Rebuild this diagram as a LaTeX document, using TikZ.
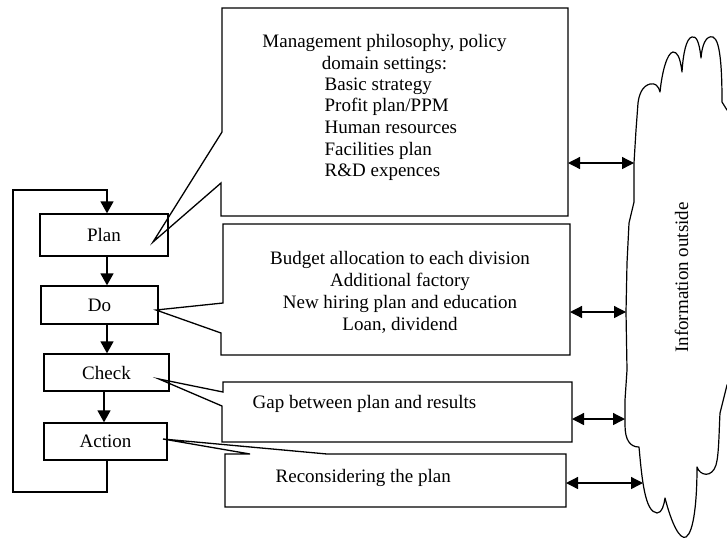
\documentclass[tikz,border=0pt]{standalone}
\usepackage{fontspec}
\setmainfont{Liberation Serif}
\usetikzlibrary{arrows.meta}

\begin{document}
\begin{tikzpicture}[x=1pt,y=-1pt,
  line width=1.3pt, line join=miter,
  lbl/.style={font=\fontsize{19}{21.7}\selectfont, inner sep=0pt},
  stage/.style={draw, lbl},
  bubble/.style={draw, line width=1.3pt},
  flow/.style={-{Triangle[length=12pt,width=13pt]}},
  both/.style={{Triangle[length=12pt,width=12pt]}-{Triangle[length=12pt,width=12pt]}},
  cloudline/.style={draw, line width=1.2pt, line join=round}
]
\useasboundingbox (0,0) rectangle (727,539);
\clip (0,0) rectangle (727,539);

% PDCA stages
\node[stage, minimum width=128pt, minimum height=42pt] (plan)   at (104,235)   {Plan};
\node[stage, minimum width=117pt, minimum height=38pt] (do)     at (99.5,305)  {Do};
\node[stage, minimum width=125pt, minimum height=37pt] (check)  at (106.5,372.5) {Check};
\node[stage, minimum width=123pt, minimum height=37pt] (action) at (105.5,441.5) {Action};

\coordinate (ax) at (107,0);
\coordinate (bx) at (104,0);
\draw[flow] (plan.south -| ax) -- (do.north -| ax);
\draw[flow] (do.south -| ax) -- (check.north -| ax);
\draw[flow] (check.south -| bx) -- (action.north -| bx);

% feedback loop from Action back to Plan
\coordinate (lowleft) at (13,492);
\coordinate (upleft) at (13,190);
\draw[flow] (action.south -| ax) |- (lowleft) -- (upleft) -| (plan.north -| ax);

% callout tips
\coordinate (tipP) at (153,242);
\coordinate (tipD) at (156,310);
\coordinate (tipC) at (159,379);
\coordinate (tipA) at (163,439);

% callout balloons
\draw[bubble] (222,8) -- (568,8) -- (568,216) -- (221,216) -- (221,183)
  -- (tipP) -- (222,132) -- cycle;
\draw[bubble] (223,224) -- (570,224) -- (570,355) -- (221,355) -- (221,333)
  -- (tipD) -- (223,303) -- cycle;
\draw[bubble] (223,382) -- (572,382) -- (572,442) -- (222,442) -- (222,406)
  -- (tipC) -- (223,392) -- cycle;
\draw[bubble] (225,454) -- (250,454) -- (tipA) -- (327,454) -- (566,454)
  -- (566,507) -- (225,507) -- cycle;

% balloon texts
\node[lbl, align=center, anchor=north] (policy) at (384.5,33.5)
  {Management philosophy, policy\\domain settings:};
\node[lbl, align=left, anchor=north west] (items) at (324,76.9)
  {Basic strategy\\Profit plan/PPM\\Human resources\\Facilities plan\\R\&D expences};
\node[lbl, font=\fontsize{19}{22}\selectfont, align=center, anchor=north] (budget) at (400,250.5)
  {Budget allocation to each division\\Additional factory\\New hiring plan and education\\Loan, dividend};
\node[lbl, anchor=base west] (gap) at (252,408) {Gap between plan and results};
\node[lbl, anchor=base west] (recon) at (275,482) {Reconsidering the plan};

% outside information cloud
\draw[cloudline] (625,425) .. controls (625,440) and (630,447) .. (639,447)
  .. controls (642,480) and (645,512) .. (657,513)
  .. controls (662,513) and (664,505) .. (665,498)
  .. controls (672,525) and (680,540) .. (686,537)
  .. controls (694,532) and (697,500) .. (697,467)
  .. controls (700,476) and (712,478) .. (716,465)
  .. controls (719,455) and (719,430) .. (720,413)
  -- (727,385) -- (745,370) -- (745,115) -- (727,110) -- (722,102)
  .. controls (722,75) and (721,40) .. (713,37)
  .. controls (706,35) and (702,45) .. (701,58)
  .. controls (699,40) and (696,36) .. (692,37)
  .. controls (686,38) and (683,55) .. (682,72)
  .. controls (680,56) and (677,52) .. (673,52)
  .. controls (667,53) and (662,72) .. (660,92)
  .. controls (658,85) and (655,83) .. (650,84)
  .. controls (642,86) and (639,95) .. (638,103)
  -- (636,130) -- (634,163) -- (634,202) -- (629,223) -- (627,263)
  -- (626,312) -- (627,370) -- (625,400) -- cycle;
\node[lbl, rotate=90, anchor=base] (outside) at (688,277.5) {Information outside};

% exchanges with the outside
\coordinate (r1) at (568,163); \coordinate (k1) at (634,163);
\coordinate (r2) at (570,312); \coordinate (k2) at (626,312);
\coordinate (r3) at (572,419); \coordinate (k3) at (625,419);
\coordinate (r4) at (566,483); \coordinate (k4) at (643,483);
\draw[both] (r1) -- (k1);
\draw[both] (r2) -- (k2);
\draw[both] (r3) -- (k3);
\draw[both] (r4) -- (k4);
\end{tikzpicture}
\end{document}
